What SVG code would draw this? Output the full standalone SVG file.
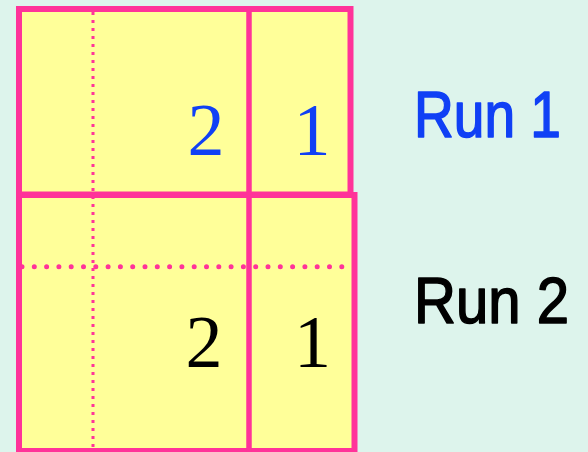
<svg xmlns="http://www.w3.org/2000/svg" width="588" height="452" viewBox="0 0 588 452">
  <style>
    .box { fill: #ffff99; stroke: #ff3399; stroke-width: 6; }
    .div { stroke: #ff3399; stroke-width: 5.5; fill: none; }
    .sq { stroke: #ff3399; stroke-width: 3; stroke-dasharray: 3 5; fill: none; }
    .rd { stroke: #ff3399; stroke-width: 5; stroke-linecap: round; stroke-dasharray: 0 12.3; fill: none; }
    .num { font-family: "Liberation Serif", "Times New Roman", serif; font-size: 74px; text-anchor: middle; }
    .lbl { font-family: "Liberation Sans", Arial, sans-serif; font-size: 65px; stroke-width: 1.6; stroke-linejoin: round; }
  </style>
  <rect x="0" y="0" width="588" height="452" fill="#ddf4ec"/>
  <g id="run2">
    <rect class="box" x="19" y="195" width="335.5" height="256"/>
    <line class="div" x1="249" y1="195" x2="249" y2="452"/>
    <line class="rd" x1="22" y1="266.7" x2="342" y2="266.7"/>
    <text class="num" x="204" y="367" fill="#000000">2</text>
    <text class="num" x="312.5" y="367" fill="#000000">1</text>
  </g>
  <g id="run1">
    <rect class="box" x="19" y="9" width="331.5" height="185.5"/>
    <line class="div" x1="249" y1="9" x2="249" y2="194.5"/>
    <text class="num" x="206" y="155" fill="#1040f5">2</text>
    <text class="num" x="312" y="155" fill="#1040f5">1</text>
  </g>
  <g id="connectors">
    <line class="sq" x1="93" y1="12" x2="93" y2="452"/>
  </g>
  <g id="labels">
    <text class="lbl" x="414" y="137" fill="#1040f5" stroke="#1040f5" textLength="147" lengthAdjust="spacingAndGlyphs">Run 1</text>
    <text class="lbl" x="414" y="323" fill="#000000" stroke="#000000" textLength="155" lengthAdjust="spacingAndGlyphs">Run 2</text>
  </g>
</svg>
